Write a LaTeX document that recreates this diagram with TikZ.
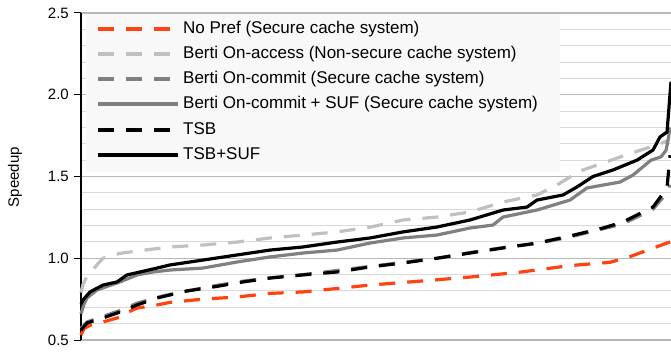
\documentclass[tikz,border=0pt]{standalone}
\usepackage{fontspec}
\setmainfont{Liberation Sans}
\usetikzlibrary{positioning}
\definecolor{noprefred}{HTML}{FF420E}
\definecolor{accessgray}{HTML}{C0C0C0}
\definecolor{commitgray}{HTML}{808080}
\definecolor{minorgrid}{HTML}{D9D9D9}
\definecolor{majorgrid}{HTML}{B8B8B8}
\definecolor{legendbg}{HTML}{F8F8F8}
\tikzstyle{series} = [line width=3.2pt, line join=round]
\tikzstyle{dashed series} = [series, dash pattern=on 16pt off 12pt]
\tikzstyle{legtext} = [anchor=west, inner sep=0pt, text height=12pt, text depth=3.5pt, font=\fontsize{17}{17}\selectfont]
\tikzstyle{ticklabel} = [anchor=east, inner sep=0pt, font=\fontsize{15}{15}\selectfont]

\begin{document}
\begin{tikzpicture}[x=1pt, y=1pt]
  \useasboundingbox (0,0) rectangle (671,351);
  % data area: x in pixels, y in speedup
  \begin{scope}[y=163.5pt, yshift=-70.75pt]
    % grid lines
    \foreach \i in {6,...,24}
      \draw[minorgrid, line width=1pt] (81,{\i/10}) -- (671,{\i/10});
    \foreach \s in {1.0,1.5,2.0}
      \draw[majorgrid, line width=1pt] (81,\s) -- (671,\s);
    \draw[majorgrid, line width=1.6pt] (81,2.5) -- (671,2.5);
    \draw[majorgrid, line width=1.6pt] (81,0.5) -- (671,0.5);
    % y axis with ticks and labels
    \draw[black, line width=1.2pt] (81,0.5) -- (81,2.5);
    \foreach \s in {0.5,1.0,1.5,2.0,2.5} {
      \draw[black, line width=1pt] (74,\s) -- (81,\s);
      \node[ticklabel] (tick\s) at (69,\s) {\s};
    }
  \end{scope}
  \node[rotate=90, inner sep=0pt, font=\fontsize{15}{15}\selectfont] (ylabel) at (15,174) {Speedup};

  % legend box
  \fill[legendbg] (86,179) rectangle (560,337);
  \node[legtext] (lnopref) at (183,322) {No Pref (Secure cache system)};
  \node[legtext] (laccess) at (183,297) {Berti On-access (Non-secure cache system)};
  \node[legtext] (lcommit) at (183,272) {Berti On-commit (Secure cache system)};
  \node[legtext] (lcommitsuf) at (183,247) {Berti On-commit + SUF (Secure cache system)};
  \node[legtext] (ltsb) at (183,221) {TSB};
  \node[legtext] (ltsbsuf) at (183,196) {TSB+SUF};
  \draw[dashed series, noprefred] ([xshift=-85pt]lnopref.west) -- ([xshift=-5pt]lnopref.west);
  \draw[dashed series, accessgray] ([xshift=-85pt]laccess.west) -- ([xshift=-5pt]laccess.west);
  \draw[dashed series, commitgray] ([xshift=-85pt]lcommit.west) -- ([xshift=-5pt]lcommit.west);
  \draw[series, commitgray] ([xshift=-85pt]lcommitsuf.west) -- ([xshift=-5pt]lcommitsuf.west);
  \draw[dashed series, black] ([xshift=-85pt]ltsb.west) -- ([xshift=-5pt]ltsb.west);
  \draw[series, black] ([xshift=-85pt]ltsbsuf.west) -- ([xshift=-5pt]ltsbsuf.west);

  % curves
  \begin{scope}[y=163.5pt, yshift=-70.75pt]
    % No Pref
    \draw[dashed series, noprefred] plot coordinates {(81,0.53) (84,0.57) (90,0.59) (103,0.61) (120,0.64) (128,0.67) (137,0.695) (157,0.714) (170,0.73) (203,0.75) (237,0.763) (270,0.785) (303,0.794) (337,0.815) (370,0.836) (420,0.86) (470,0.885) (520,0.915) (570,0.955) (610,0.975) (630,1.01) (650,1.055) (670,1.10)};
    % Berti On-access
    \draw[dashed series, accessgray] plot coordinates {(81,0.79) (83,0.84) (87,0.89) (93,0.93) (97,0.96) (103,1.0) (120,1.03) (137,1.044) (170,1.069) (203,1.081) (237,1.099) (270,1.124) (303,1.142) (337,1.161) (370,1.19) (403,1.234) (437,1.252) (470,1.283) (503,1.344) (537,1.387) (557,1.448) (570,1.497) (583,1.54) (603,1.583) (630,1.64) (647,1.674) (660,1.70) (668,1.72)};
    % Berti On-commit
    \draw[dashed series, commitgray] plot coordinates {(81,0.57) (87,0.61) (103,0.645) (120,0.68) (137,0.725) (163,0.77) (187,0.80) (213,0.83) (243,0.86) (270,0.88) (303,0.90) (337,0.925) (370,0.95) (403,0.975) (437,1.0) (470,1.035) (503,1.065) (537,1.09) (570,1.13) (603,1.18) (623,1.21) (653,1.30) (667,1.40) (670,1.45)};
    % Berti On-commit + SUF
    \draw[series, commitgray] plot coordinates {(81,0.66) (84,0.72) (87,0.757) (97,0.806) (120,0.855) (137,0.898) (153,0.916) (170,0.928) (203,0.94) (237,0.977) (270,1.008) (303,1.032) (337,1.05) (370,1.093) (403,1.124) (437,1.142) (470,1.185) (493,1.203) (503,1.252) (537,1.295) (570,1.356) (587,1.43) (620,1.466) (633,1.509) (651,1.6) (661,1.62) (666,1.66) (668,1.72) (670,1.80)};
    % TSB
    \draw[dashed series, black] plot coordinates {(81,0.56) (87,0.604) (103,0.635) (120,0.671) (137,0.714) (157,0.757) (187,0.80) (213,0.824) (243,0.855) (270,0.879) (303,0.898) (337,0.916) (370,0.947) (403,0.971) (437,1.0) (470,1.032) (503,1.063) (537,1.093) (570,1.136) (603,1.185) (623,1.222) (653,1.313) (667,1.43) (670,1.63)};
    % TSB+SUF
    \draw[series, black] plot coordinates {(81,0.72) (83,0.745) (90,0.794) (103,0.836) (117,0.855) (127,0.898) (140,0.916) (157,0.94) (170,0.959) (203,0.989) (237,1.02) (270,1.05) (303,1.069) (337,1.099) (370,1.124) (403,1.161) (437,1.191) (470,1.234) (503,1.295) (527,1.313) (537,1.356) (563,1.387) (577,1.436) (593,1.50) (613,1.54) (637,1.60) (653,1.662) (660,1.742) (667,1.772) (671,2.08)};
  \end{scope}
\end{tikzpicture}
\end{document}
